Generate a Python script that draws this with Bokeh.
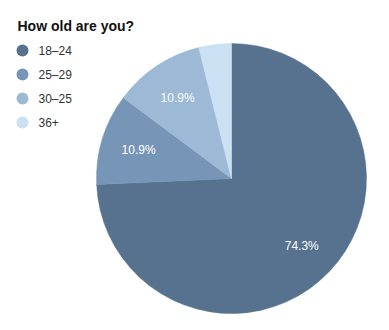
import numpy as np
from bokeh.plotting import figure
from bokeh.models import Range1d, Label, ColumnDataSource
from bokeh.core.properties import value
from bokeh.embed import file_html
from bokeh.resources import INLINE

title = "How old are you?"
categories = ["18–24", "25–29", "30–25", "36+"]
percents = [74.3, 10.9, 10.9, 3.9]
labels = ["74.3%", "10.9%", "10.9%", ""]
colors = ["#56728f", "#7796b7", "#9cb9d6", "#cbe0f3"]

W, H = 389, 330
p = figure(width=W, height=H, output_backend="svg", toolbar_location=None,
           x_range=Range1d(0, W), y_range=Range1d(0, H), min_border=0)
p.axis.visible = False
p.grid.visible = False
p.outline_line_color = None
p.background_fill_color = "white"
p.border_fill_color = "white"

cx, cy, R = 231, 330 - 178, 135
vals = np.array(percents) / sum(percents)
cum = np.concatenate([[0], np.cumsum(vals)])
start = np.pi / 2 - cum[:-1] * 2 * np.pi
end = np.pi / 2 - cum[1:] * 2 * np.pi
src = ColumnDataSource(dict(start=start, end=end, color=colors, cat=categories,
                            x=[cx] * 4, y=[cy] * 4))
p.wedge(x="x", y="y", radius=R, start_angle="start", end_angle="end",
        direction="clock", fill_color="color", line_color="color", line_width=0.5,
        source=src)

mid = (start + end) / 2
lr = 0.72 * R
lsrc = ColumnDataSource(dict(x=cx + lr * np.cos(mid), y=cy + lr * np.sin(mid), t=labels))
p.text(x="x", y="y", text="t", source=lsrc, text_color="white",
       text_font=value("Liberation Sans"), text_font_size="12px",
       text_align="center", text_baseline="middle")

# legend
ly = [330 - 50 - 24 * i for i in range(len(categories))]
legsrc = ColumnDataSource(dict(x=[22] * 4, y=ly, color=colors, cat=categories, tx=[38] * 4))
p.scatter(x="x", y="y", size=12, fill_color="color", line_color=None, source=legsrc)
p.text(x="tx", y="y", text="cat", source=legsrc, text_color="#333333",
       text_font=value("Liberation Sans"), text_font_size="12px",
       text_baseline="middle")

p.add_layout(Label(x=17, y=330 - 25, x_units="screen", y_units="screen", text=title,
                   text_font="Liberation Sans", text_font_size="14px",
                   text_font_style="bold", text_color="#111111",
                   text_baseline="middle"))

open("out.html", "w").write(file_html(p, INLINE))
